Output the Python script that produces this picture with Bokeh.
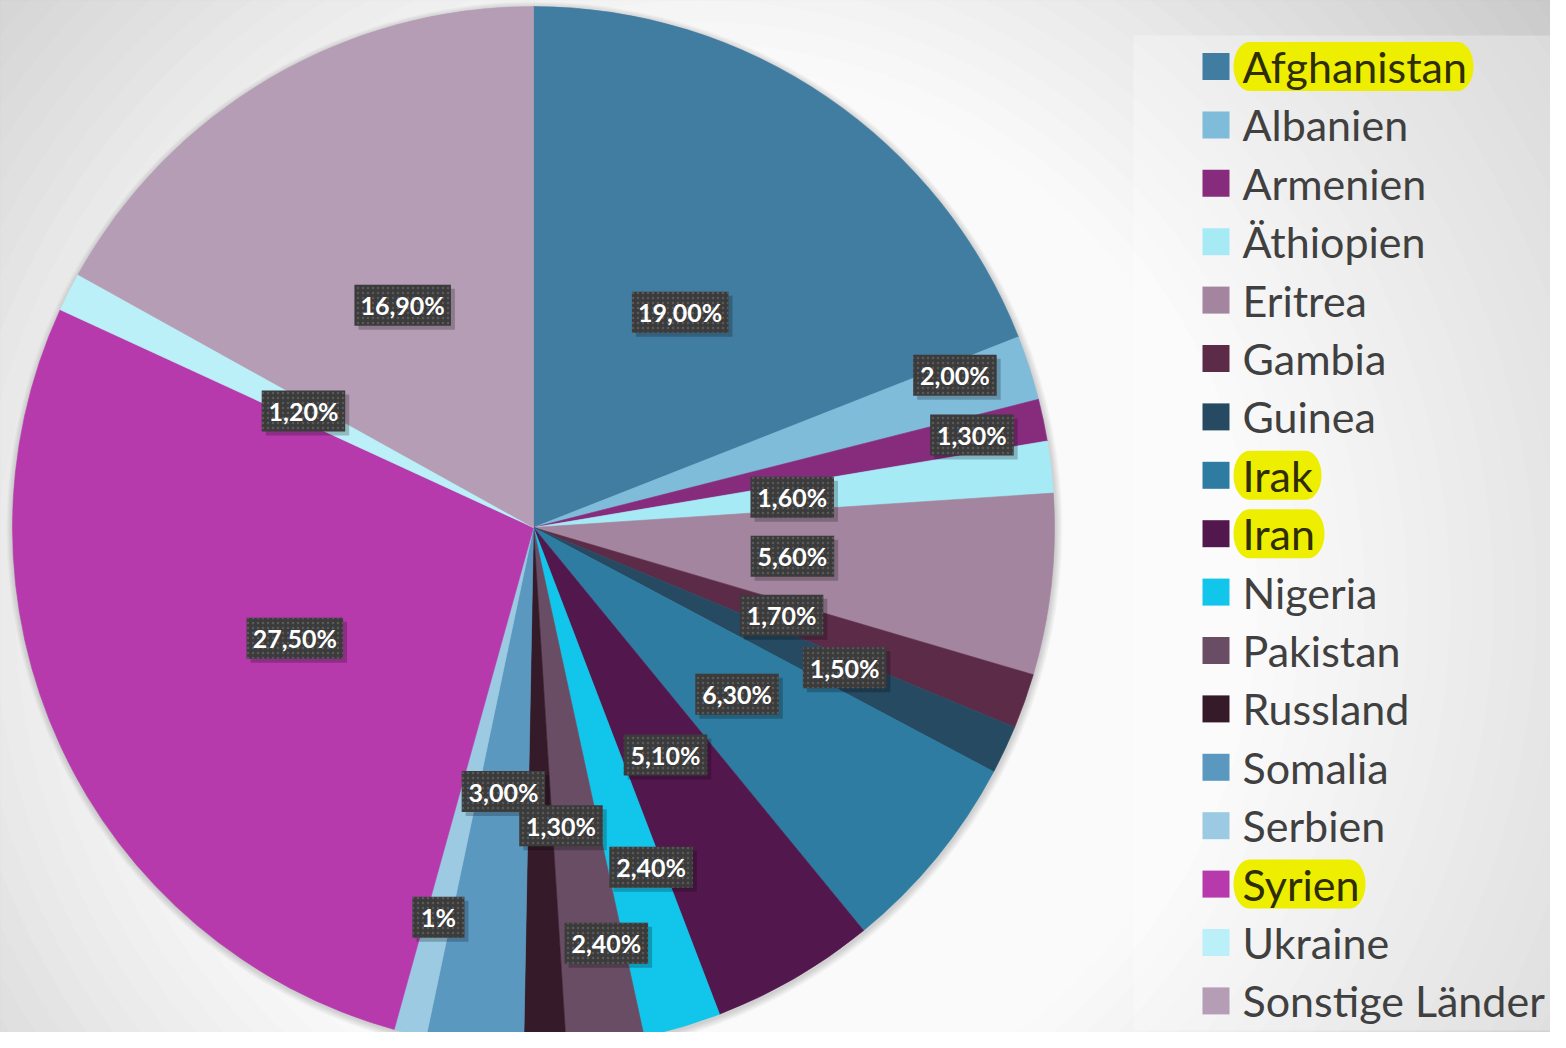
import math
from bokeh.plotting import figure
from bokeh.models import Range1d, ColumnDataSource
from bokeh.core.properties import value
from bokeh.embed import file_html
from bokeh.resources import INLINE

# ---------------- data ----------------
countries = ["Afghanistan", "Albanien", "Armenien", "Äthiopien", "Eritrea", "Gambia",
             "Guinea", "Irak", "Iran", "Nigeria", "Pakistan", "Russland", "Somalia",
             "Serbien", "Syrien", "Ukraine", "Sonstige Länder"]
shares = [19.0, 2.0, 1.3, 1.6, 5.6, 1.7, 1.5, 6.3, 5.1, 2.4, 2.4, 1.3, 3.0, 1.0, 27.5, 1.2, 16.9]
labels = ["19,00%", "2,00%", "1,30%", "1,60%", "5,60%", "1,70%", "1,50%", "6,30%", "5,10%",
          "2,40%", "2,40%", "1,30%", "3,00%", "1%", "27,50%", "1,20%", "16,90%"]
highlighted = ["Afghanistan", "Irak", "Iran", "Syrien"]

# ---------------- style ----------------
colors = ["#417ca1", "#7fbcda", "#872b7d", "#a6eaf6", "#a3859f", "#5c2b47", "#254a62",
          "#2e7ca1", "#52184d", "#12c5ea", "#684d64", "#351a29", "#5b98c0", "#9bcae2",
          "#b73aac", "#bbf0f8", "#b59db5"]
label_radius = [0.50, 0.86, 0.86, 0.50, 0.50, 0.505, 0.655, 0.505, 0.505, 0.69, 0.81,
                0.575, 0.51, 0.77, 0.505, 0.495, 0.495]
label_angle_shift = [0, -2, 0, 0, 0, 0, -1, 0, 0, -2.5, -2, -4, 0, 0, 0, 0, 0]
highlight_width = {"Afghanistan": 240, "Irak": 88, "Iran": 91, "Syrien": 132}

W, H = 1566, 1048          # reference picture size; data units = picture pixels
def Y(ref_y):
    return H - ref_y

CX, CY, R = 533, Y(527), 521

p = figure(width=1550, height=1032, output_backend="svg", toolbar_location=None,
           x_range=Range1d(0, 1550), y_range=Range1d(H - 1032, H),
           x_axis_location=None, y_axis_location=None, min_border=0)
p.grid.visible = False
p.outline_line_color = None
p.background_fill_color = "#cccccc"
p.border_fill_color = "#cccccc"

# ---------- background radial gradient ----------
gx, gy = 700, Y(600)
steps = 70
for i in range(steps):
    r = 1500 * (1 - i / steps)
    shade = 250 - max(0.0, r - 550) * 0.095
    shade = int(max(195, min(250, shade)))
    c = "#%02x%02x%02x" % (shade, shade, shade)
    p.circle(x=[gx], y=[gy], radius=r, fill_color=c, line_color=None)

# legend panel
p.quad(left=[1133], right=[1570], top=[Y(35)], bottom=[Y(1030)],
       fill_color="white", fill_alpha=0.3, line_color=None)

# ---------- pie shadow ----------
for k in range(1, 8):
    p.circle(x=[CX + 1], y=[CY - 2], radius=R + k, fill_color="black",
             fill_alpha=0.022, line_color=None)

# ---------- wedges ----------
total = sum(shares)
starts, ends, mids = [], [], []
acc = 0.0
for s in shares:
    a0 = acc / total * 2 * math.pi
    acc += s
    a1 = acc / total * 2 * math.pi
    starts.append(math.pi / 2 - a0)
    ends.append(math.pi / 2 - a1)
    mids.append((a0 + a1) / 2)

src = ColumnDataSource(dict(start=starts, end=ends, color=colors))
p.wedge(x=CX, y=CY, radius=R, start_angle="start", end_angle="end", direction="clock",
        fill_color="color", line_color="color", line_width=0.6, source=src)

# ---------- data labels ----------
def text_w(s):
    w = 0.0
    for ch in s:
        if ch.isdigit():
            w += 13
        elif ch == ",":
            w += 5.5
        elif ch == "%":
            w += 18
    return w

lx, ly, bw = [], [], []
for i, lab in enumerate(labels):
    th = mids[i] + math.radians(label_angle_shift[i])
    rr = label_radius[i] * R
    lx.append(CX + rr * math.sin(th))
    ly.append(CY + rr * math.cos(th))
    bw.append(text_w(lab) + 21)

lsrc = ColumnDataSource(dict(x=lx, y=ly, w=bw, t=labels,
                             sx=[v + 4 for v in lx], sy=[v - 4 for v in ly]))
p.rect(x="sx", y="sy", width="w", height=41, fill_color="black", fill_alpha=0.22,
       line_color=None, source=lsrc)
p.rect(x="x", y="y", width="w", height=41, fill_color="#3b3b3b", line_color=None,
       hatch_pattern=".", hatch_color="#595959", hatch_scale=5, hatch_weight=1.5,
       source=lsrc)
p.text(x="x", y="y", text="t", text_color="white", text_font=value("Lato"),
       text_font_style="bold", text_font_size="25px", text_align="center",
       text_baseline="middle", source=lsrc)

# ---------- legend ----------
row0, step = 66, 58.4
sq_x, txt_x = 1215.5, 1242
for i, name in enumerate(countries):
    yc = Y(row0 + i * step)
    if name in highlighted:
        wdt = highlight_width[name]
        left, right = 1233, 1233 + wdt
        rx, ry = 16, 24.5
        xs, ys = [], []
        for k in range(0, 21):
            a = math.pi / 2 - math.pi * k / 20
            xs.append(right - rx + rx * math.cos(a))
            ys.append(yc + ry * math.sin(a))
        for k in range(0, 21):
            a = -math.pi / 2 - math.pi * k / 20
            xs.append(left + rx + rx * math.cos(a))
            ys.append(yc + ry * math.sin(a))
        p.patch(xs, ys, fill_color="#eeee00", line_color=None)
        tcol = "#2e2e00"
    else:
        tcol = "#404040"
    p.rect(x=[sq_x], y=[yc], width=27, height=27, fill_color=colors[i], line_color=None)
    p.text(x=[txt_x], y=[yc], text=[name], text_color=tcol, text_font=value("Lato"),
           text_font_size="43px", text_align="left", text_baseline="middle")

open("out.html", "w").write(file_html(p, INLINE))
